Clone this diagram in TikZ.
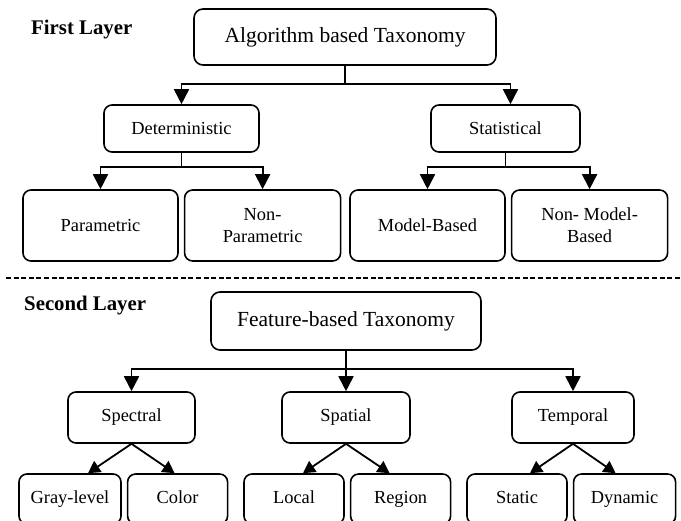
\documentclass[tikz,border=0pt]{standalone}
\usepackage{fontspec}
\setmainfont{Liberation Serif}
\usetikzlibrary{arrows.meta,positioning}

\begin{document}
\begin{tikzpicture}
  [
   x=1pt,y=-1pt,
   node distance=5pt,
   tb/.style={draw,rounded corners=9pt,line width=1.6pt,inner sep=0pt,font=\fontsize{21.5}{24}\selectfont},
   mb/.style={draw,rounded corners=8pt,line width=1.6pt,inner sep=0pt,align=center,font=\fontsize{18.4}{22}\selectfont},
   lb/.style={mb,minimum width=100pt,minimum height=50pt,text height=13pt,text depth=4pt},
   ly/.style={inner sep=0pt,font=\fontsize{20.8}{24}\selectfont\bfseries},
   ln/.style={line width=1.8pt},
   stub/.style={line width=1pt},
   ar/.style={line width=1.8pt,-{Triangle[width=15pt,length=15pt]}},
   ar2/.style={line width=1.8pt,-{Triangle[width=13pt,length=12pt]}}
  ]
   \useasboundingbox (0,0) rectangle (681,521);

   % first layer
   \node[ly,anchor=west] (l1) at (31,30) {First Layer};
   \node[tb,minimum width=302pt,minimum height=56pt] (alg) at (345,37) {Algorithm based Taxonomy};
   \node[mb,minimum width=155pt,minimum height=47pt] (det) at (181.5,128.5) {Deterministic};
   \node[mb,minimum width=149pt,minimum height=47pt] (stat) at (505.5,128.5) {Statistical};
   \node[mb,minimum width=155pt,minimum height=71pt] (par) at (100.5,225.5) {Parametric};
   \node[mb,minimum width=156pt,minimum height=71pt] (npar) [right=of par] {Non-\\Parametric};
   \node[mb,minimum width=155pt,minimum height=71pt] (mod) at (427.5,225.5) {Model-Based};
   \node[mb,minimum width=156pt,minimum height=71pt] (nmod) [right=of mod] {Non- Model-\\Based};

   \draw[ln] (alg.south) -- ++(0,18) coordinate (ab);
   \draw[ar] (ab) -| (det.north);
   \draw[ar] (ab) -| ([xshift=5pt]stat.north);
   \draw[stub] (det.south) -- ++(0,14) coordinate (db);
   \draw[ar] (db) -| (par.north);
   \draw[ar] (db) -| (npar.north);
   \draw[stub] (stat.south) -- ++(0,14) coordinate (sb);
   \draw[ar] (sb) -| (mod.north);
   \draw[ar] (sb) -| (nmod.north);

   % separator
   \coordinate (sepl) at (6,278);
   \coordinate (sepr) at (681,278);
   \draw[line width=2pt,dash pattern=on 5pt off 2.6pt] (sepl) -- (sepr);

   % second layer
   \node[ly,anchor=west] (l2) at (24,306) {Second Layer};
   \node[tb,minimum width=270pt,minimum height=58pt] (feat) at (346,321) {Feature-based Taxonomy};
   \node[mb,minimum width=127pt,minimum height=51pt] (spec) at (131.5,417.5) {Spectral};
   \node[mb,minimum width=128pt,minimum height=51pt] (spat) at (346,417.5) {Spatial};
   \node[mb,minimum width=122pt,minimum height=51pt] (temp) at (573,417.5) {Temporal};
   \node[lb,minimum width=102pt] (gray) at (70,499) {Gray-level};
   \node[lb] (col) [right=of gray] {Color};
   \node[lb] (loc) at (294,499) {Local};
   \node[lb] (reg) [right=of loc] {Region};
   \node[lb] (sta) at (517,499) {Static};
   \node[lb,minimum width=102pt] (dyn) [right=of sta] {Dynamic};

   \draw[ln] (feat.south) -- ++(0,18) coordinate (fb);
   \draw[ar] (fb) -| (spec.north);
   \draw[ar] (fb) -- (spat.north);
   \draw[ar] (fb) -| (temp.north);

   \draw[ar2] (spec.south) -- ([xshift=18pt]gray.north);
   \draw[ar2] (spec.south) -- ([xshift=-3pt]col.north);
   \draw[ar2] (spat.south) -- ([xshift=9pt]loc.north);
   \draw[ar2] (spat.south) -- ([xshift=-11pt]reg.north);
   \draw[ar2] (temp.south) -- ([xshift=13pt]sta.north);
   \draw[ar2] (temp.south) -- ([xshift=-9pt]dyn.north);

\end{tikzpicture}
\end{document}
